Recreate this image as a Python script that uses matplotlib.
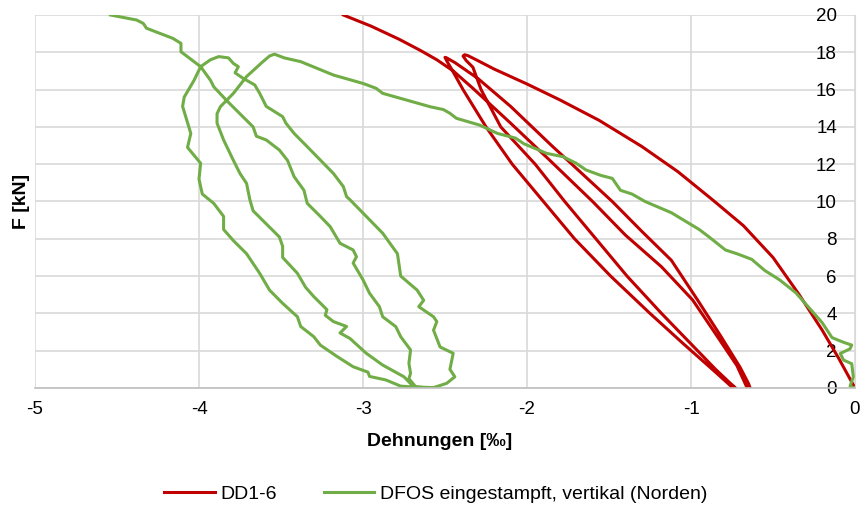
import numpy as np
import matplotlib.pyplot as plt

plt.rcParams['font.family'] = ['Liberation Sans', 'DejaVu Sans']
plt.rcParams['axes.unicode_minus'] = False

# DD1-6 (red): strain [permille] vs F [kN]
red_load_x = [0, -0.1, -0.2, -0.34, -0.5, -0.68, -0.87, -1.08, -1.3, -1.56, -1.8, -2.0, -2.2, -2.31, -2.36, -2.38]
red_load_f = [0, 1.6, 3.1, 5.0, 7.0, 8.7, 10.1, 11.6, 12.95, 14.35, 15.45, 16.3, 17.1, 17.6, 17.82, 17.87]
red_unload1_x = [-2.39, -2.37, -2.33, -2.28, -2.16, -1.95, -1.77, -1.58, -1.39, -1.18, -1.07, -0.96, -0.85, -0.76, -0.73]
red_unload1_f = [17.8, 17.55, 17.2, 16.0, 14.0, 12.0, 10.0, 8.0, 6.0, 4.0, 3.0, 2.0, 1.0, 0.25, 0.02]
red_reload1_x = [-0.75, -0.87, -1.05, -1.25, -1.49, -1.71, -1.9, -2.09, -2.25, -2.39, -2.46, -2.49, -2.5]
red_reload1_f = [0.05, 1.0, 2.4, 4.0, 6.0, 8.0, 10.0, 12.0, 14.0, 16.0, 17.1, 17.55, 17.73]
red_unload2_x = [-2.49, -2.44, -2.3, -2.1, -1.85, -1.48, -1.3, -1.12, -0.96, -0.82, -0.7, -0.65, -0.64]
red_unload2_f = [17.7, 17.45, 16.6, 15.1, 13.0, 10.0, 8.4, 6.85, 4.72, 2.8, 1.1, 0.25, 0.02]
red_reload2_x = [-0.66, -0.72, -0.85, -0.99, -1.18, -1.4, -1.6, -1.86, -2.1, -2.33, -2.45, -2.55, -2.65, -2.78, -2.95, -3.12]
red_reload2_f = [0.05, 1.2, 2.9, 4.72, 6.5, 8.2, 10.0, 12.2, 14.2, 16.07, 17.0, 17.6, 18.1, 18.7, 19.4, 20.0]

# DFOS eingestampft, vertikal (Norden) (green)
green_load_x = [0, -0.03, -0.01, -0.02, -0.07, -0.09, -0.03, -0.02, -0.07, -0.14, -0.17, -0.2, -0.28,
                -0.36, -0.46, -0.55, -0.63, -0.72, -0.79, -0.89, -0.95, -1.12, -1.28, -1.36, -1.43,
                -1.46, -1.48, -1.55, -1.64, -1.7, -1.78, -1.88, -2.02, -2.07, -2.18, -2.29, -2.43,
                -2.47, -2.51, -2.59, -2.88, -2.92, -3.0, -3.18, -3.38, -3.48, -3.54]
green_load_f = [0, 0.1, 0.6, 1.3, 1.5, 1.85, 2.1, 2.3, 2.45, 2.7, 3.1, 3.5, 4.3,
                5.1, 5.8, 6.3, 6.9, 7.2, 7.4, 8.1, 8.5, 9.4, 10.0, 10.4, 10.6,
                10.98, 11.24, 11.4, 11.69, 12.05, 12.4, 12.58, 13.1, 13.4, 13.65, 14.1, 14.46,
                14.73, 14.93, 15.08, 15.8, 16.07, 16.33, 16.78, 17.5, 17.7, 17.9]
green_unload1_x = [-3.57, -3.61, -3.71, -3.79, -3.87, -3.89, -3.89, -3.85, -3.79, -3.75, -3.71, -3.69,
                   -3.67, -3.59, -3.51, -3.49, -3.49, -3.4, -3.35, -3.3, -3.22, -3.23, -3.18, -3.1,
                   -3.14, -3.08, -2.98, -2.88, -2.75, -2.69]
green_unload1_f = [17.8, 17.5, 16.7, 15.8, 15.08, 14.7, 14.2, 13.3, 12.2, 11.5, 10.97, 10.1,
                   9.5, 8.8, 8.1, 7.6, 7.0, 6.15, 5.4, 4.9, 4.2, 3.9, 3.56, 3.3,
                   2.95, 2.66, 1.86, 1.23, 0.6, 0.05]
green_reload1_x = [-2.77, -2.86, -2.96, -2.97, -3.06, -3.16, -3.26, -3.3, -3.38, -3.4, -3.49, -3.57,
                   -3.63, -3.71, -3.79, -3.85, -3.85, -3.91, -3.98, -4.0, -3.99, -4.07, -4.05, -4.1,
                   -4.09, -4.03, -3.99, -3.93, -3.88]
green_reload1_f = [0.1, 0.43, 0.62, 0.85, 1.14, 1.7, 2.3, 2.75, 3.3, 3.82, 4.54, 5.25,
                   6.15, 7.2, 7.9, 8.5, 9.2, 9.9, 10.4, 11.2, 12.05, 12.9, 13.65, 15.1,
                   15.6, 16.5, 17.23, 17.6, 17.77]
green_unload2_x = [-3.82, -3.79, -3.76, -3.78, -3.73, -3.66, -3.63, -3.59, -3.49, -3.47, -3.42, -3.34,
                   -3.18, -3.12, -3.1, -3.08, -2.98, -2.88, -2.79, -2.77, -2.67, -2.63, -2.66, -2.57,
                   -2.55, -2.57, -2.53, -2.45, -2.47, -2.44, -2.49, -2.57]
green_unload2_f = [17.7, 17.4, 17.23, 16.9, 16.6, 16.25, 15.8, 15.1, 14.55, 14.2, 13.65, 12.94,
                   11.5, 10.8, 10.26, 10.1, 9.2, 8.3, 7.2, 6.0, 5.25, 4.7, 4.36, 3.82,
                   3.56, 3.1, 2.2, 1.86, 1.0, 0.6, 0.25, 0.02]
green_reload2_x = [-2.63, -2.68, -2.72, -2.71, -2.72, -2.71, -2.77, -2.8, -2.88, -2.9, -2.96, -3.0,
                   -3.06, -3.04, -3.06, -3.14, -3.2, -3.26, -3.34, -3.36, -3.42, -3.46, -3.51, -3.59,
                   -3.65, -3.67, -3.75, -3.83, -3.91, -3.93, -3.99, -4.11, -4.11, -4.16, -4.32, -4.34,
                   -4.38, -4.54]
green_reload2_f = [0.04, 0.08, 0.5, 0.79, 1.32, 2.04, 2.75, 3.29, 3.82, 4.36, 5.08, 5.8,
                   6.7, 7.04, 7.4, 7.76, 8.65, 9.2, 9.9, 10.6, 11.33, 12.2, 12.76, 13.3,
                   13.5, 14.0, 14.7, 15.4, 16.15, 16.5, 17.23, 18.03, 18.48, 18.75, 19.29, 19.55,
                   19.73, 20.0]

red_x = np.concatenate([red_load_x, red_unload1_x, red_reload1_x, red_unload2_x, red_reload2_x])
red_f = np.concatenate([red_load_f, red_unload1_f, red_reload1_f, red_unload2_f, red_reload2_f])
green_x = np.concatenate([green_load_x, green_unload1_x, green_reload1_x, green_unload2_x, green_reload2_x])
green_f = np.concatenate([green_load_f, green_unload1_f, green_reload1_f, green_unload2_f, green_reload2_f])

fig = plt.figure(figsize=(8.64, 5.16), dpi=100)
ax = fig.add_axes([35 / 864, 128 / 516, 820 / 864, 373 / 516])

ax.plot(red_x, red_f, color='#C00000', lw=2.2, label='DD1-6', solid_joinstyle='round')
ax.plot(green_x, green_f, color='#70AD47', lw=2.2, label='DFOS eingestampft, vertikal (Norden)',
        solid_joinstyle='round')

ax.set_xlim(-5, 0)
ax.set_ylim(0, 20)
ax.set_xticks(np.arange(-5, 1, 1))
ax.set_yticks(np.arange(0, 21, 2))
ax.grid(color='#D9D9D9', lw=1.2)
ax.set_axisbelow(True)

ax.spines['left'].set_position(('data', 0))
ax.spines['left'].set_color('#D9D9D9')
ax.spines['bottom'].set_color('#BFBFBF')
ax.spines['bottom'].set_linewidth(1.2)
ax.spines['top'].set_visible(False)
ax.spines['right'].set_visible(False)
ax.tick_params(axis='x', length=0, labelsize=13.5, pad=9)
ax.tick_params(axis='y', length=0, labelsize=13.5, pad=13)

fig.text(22 / 864, 1 - 201 / 516, 'F [kN]', rotation=90, ha='center', va='center',
         fontsize=14, fontweight='bold')
fig.text(440 / 864, 1 - 441 / 516, 'Dehnungen [‰]', ha='center', va='center',
         fontsize=14, fontweight='bold')

fig.legend(loc='center', bbox_to_anchor=(436 / 864, 1 - 494 / 516), ncol=2, frameon=False,
           fontsize=14, handlelength=2.6, handletextpad=0.3, columnspacing=2.4)

fig.savefig('out.png', dpi=100)
